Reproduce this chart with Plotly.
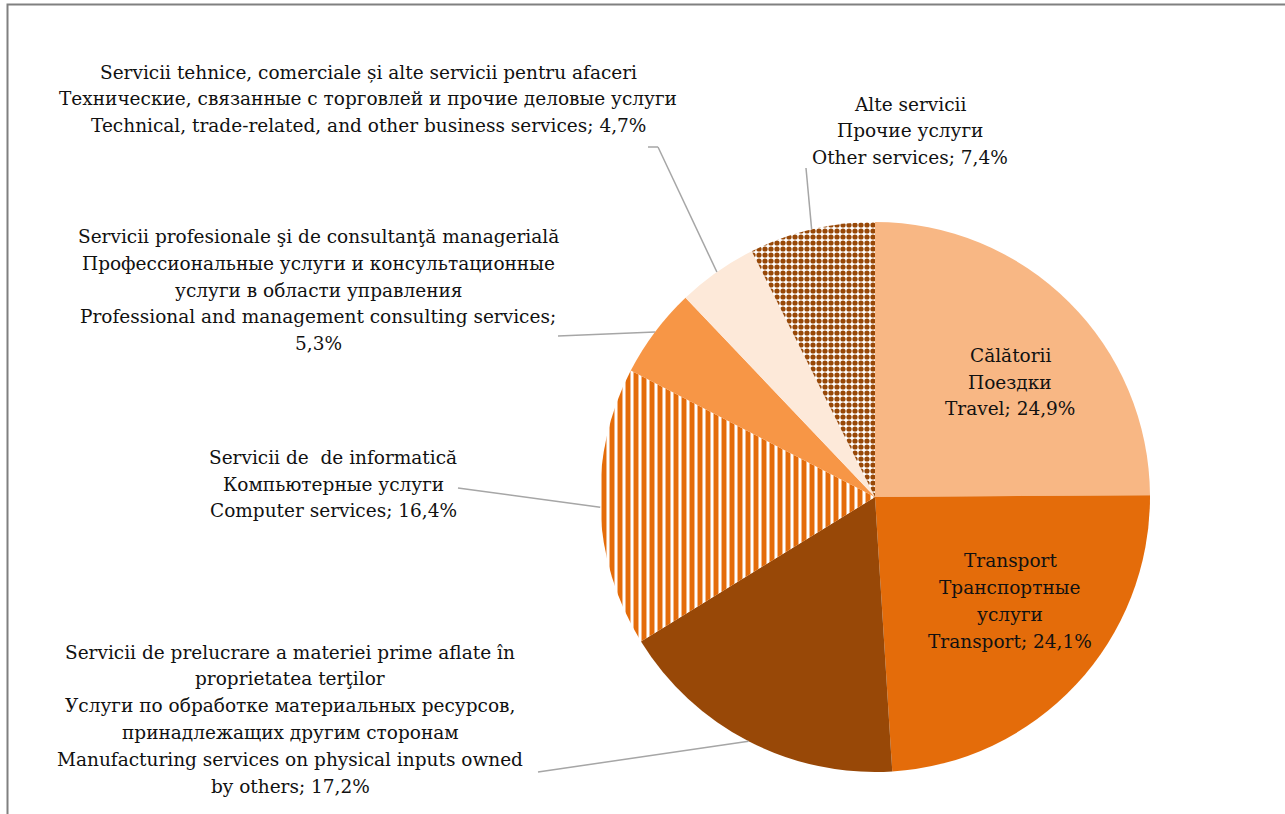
import math
import plotly.graph_objects as go

W, H = 1285, 814

# ---- data ----
labels_ro = ["Călătorii", "Transport", "Servicii de prelucrare a materiei prime aflate în|proprietatea terţilor",
             "Servicii de  de informatică", "Servicii profesionale şi de consultanţă managerială",
             "Servicii tehnice, comerciale și alte servicii pentru afaceri", "Alte servicii"]
labels_ru = ["Поездки", "Транспортные|услуги", "Услуги по обработке материальных ресурсов,|принадлежащих другим сторонам",
             "Компьютерные услуги", "Профессиональные услуги и консультационные|услуги в области управления",
             "Технические, связанные с торговлей и прочие деловые услуги", "Прочие услуги"]
labels_en = ["Travel", "Transport", "Manufacturing services on physical inputs owned|by others",
             "Computer services", "Professional and management consulting services",
             "Technical, trade-related, and other business services", "Other services"]
values = [24.9, 24.1, 17.2, 16.4, 5.3, 4.7, 7.4]
# slices whose value goes on its own line after "...;"
value_newline = [False, False, False, False, True, False, False]

colors = ["#F8B784", "#E46C0A", "#984807", "#FFFFFF", "#F79646", "#FDE9D9", "#FFFFFF"]
pat_shapes = ["", "", "", "|", "", "", "."]
pat_fg = ["#F8B784", "#E46C0A", "#984807", "#E46C0A", "#F79646", "#FDE9D9", "#984807"]

# label placement (pixel centres) and leader-line label ends
label_pos = [(1010, 382), (1010, 601), (290, 719), (333, 484), (318, 290), (368, 99), (910, 131)]
leader_end = [None, None, [(538, 772)], [(458, 488)], [(558, 336)], [(648, 147), (658, 147)], [(806, 168)]]

FONT = "DejaVu Serif"
FS = 18.5
LINE_H = 26.8

# pie geometry (pixels)
CX, CY, R = 875, 497, 275

fig = go.Figure(go.Pie(
    values=values,
    labels=labels_en,
    sort=False, direction="clockwise", rotation=0,
    textinfo="none", hoverinfo="label+percent",
    marker=dict(colors=colors, line=dict(width=0),
                pattern=dict(shape=pat_shapes, fgcolor=pat_fg, bgcolor="#FFFFFF",
                             size=[8, 8, 8, 8, 8, 8, 6], solidity=[0.5, 0.5, 0.5, 0.62, 0.5, 0.5, 0.6],
                             fillmode="replace")),
    domain=dict(x=[(CX - R) / W, (CX + R) / W], y=[1 - (CY + R) / H, 1 - (CY - R) / H]),
    showlegend=False,
))


def px(x):
    return x / W


def py(y):
    return 1 - y / H


total = sum(values)
cum = 0
shapes = []
annotations = []
for i, v in enumerate(values):
    mid = (cum + v / 2) / total * 2 * math.pi
    cum += v
    sx = CX + R * math.sin(mid)
    sy = CY - R * math.cos(mid)
    val = str(v).replace('.', ',') + "%"
    en_lines = labels_en[i].split("|")
    if value_newline[i]:
        en_lines[-1] += ";"
        en_lines.append(val)
    else:
        en_lines[-1] += "; " + val
    lines = labels_ro[i].split("|") + labels_ru[i].split("|") + en_lines
    lx, ly = label_pos[i]
    n = len(lines)
    for k, t in enumerate(lines):
        yy = ly + (k - (n - 1) / 2) * LINE_H
        annotations.append(dict(x=px(lx), y=py(yy), xref="paper", yref="paper", text=t,
                                showarrow=False, align="center", xanchor="center", yanchor="middle",
                                font=dict(family=FONT, size=FS, color="#111111")))
    if leader_end[i]:
        pts = [(sx, sy)] + list(reversed(leader_end[i]))
        for (a1, b1), (a2, b2) in zip(pts[:-1], pts[1:]):
            shapes.append(dict(type="line", xref="paper", yref="paper",
                               x0=px(a1), y0=py(b1), x1=px(a2), y1=py(b2),
                               line=dict(color="#A6A6A6", width=1.5)))

# outer frame
shapes.append(dict(type="rect", xref="paper", yref="paper", x0=px(7.5), y0=-0.05, x1=1.05, y1=py(4.5),
                   line=dict(color="#808080", width=2), fillcolor="rgba(0,0,0,0)", layer="below"))

fig.update_layout(width=W, height=H, margin=dict(l=0, r=0, t=0, b=0),
                  paper_bgcolor="#FFFFFF", plot_bgcolor="#FFFFFF",
                  shapes=shapes, annotations=annotations)

fig.write_html("out.html", config={"displayModeBar": False},
               post_script="document.body.style.margin='0';document.body.style.overflow='hidden';")
